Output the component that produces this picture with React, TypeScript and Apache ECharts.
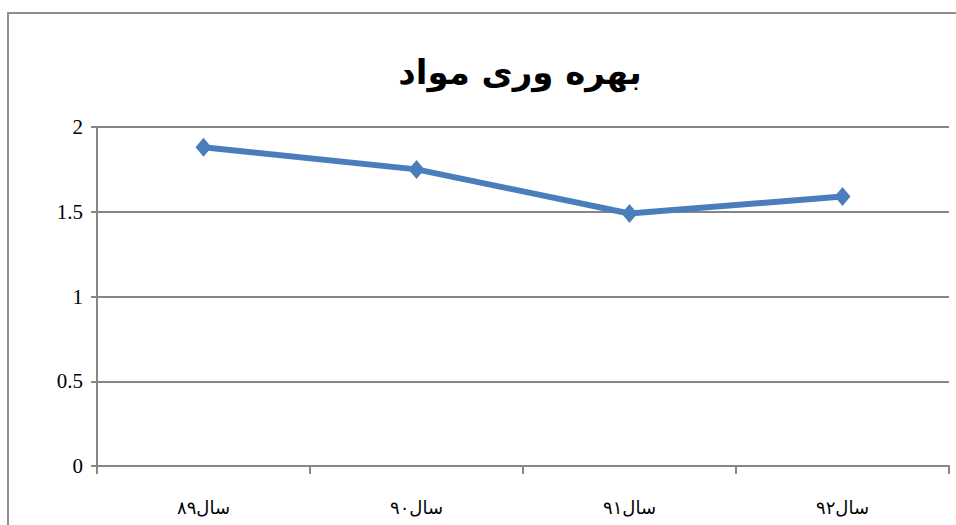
import React, { useEffect, useRef } from "react";
import * as echarts from "echarts";

const title = "بهره وری مواد";
const categories = ["سال۸۹", "سال۹۰", "سال۹۱", "سال۹۲"];
const values = [1.88, 1.75, 1.49, 1.59];
const yTicks = [0, 0.5, 1, 1.5, 2];

export default function App() {
  const ref = useRef<HTMLDivElement>(null);
  useEffect(() => {
    if (!ref.current) return;
    const chart = echarts.init(ref.current, null, { renderer: "svg" });
    chart.setOption({
      animation: false,
      backgroundColor: "#ffffff",
      title: {
        text: title,
        left: 515,
        textAlign: "center",
        top: 50,
        textStyle: {
          fontFamily: "DejaVu Sans",
          fontWeight: "bold",
          fontSize: 34,
          color: "#000",
        },
      },
      graphic: [
        {
          type: "polyline",
          shape: { points: [[8, 530], [8, 13], [960, 13]] },
          style: { stroke: "#8e8e8e", lineWidth: 2, fill: "none" },
          silent: true,
        },
      ],
      grid: { left: 97, right: 7, top: 127, bottom: 59, containLabel: false },
      xAxis: {
        type: "category",
        data: categories,
        boundaryGap: true,
        axisLine: { lineStyle: { color: "#868686", width: 2 } },
        axisTick: { show: true, length: 8, interval: 0, lineStyle: { color: "#868686", width: 2 } },
        axisLabel: {
          fontFamily: "DejaVu Sans",
          fontSize: 18,
          color: "#000",
          margin: 32,
        },
      },
      yAxis: {
        type: "value",
        min: yTicks[0],
        max: yTicks[yTicks.length - 1],
        interval: 0.5,
        axisLine: { show: true, lineStyle: { color: "#868686", width: 2 } },
        axisTick: { show: true, length: 6, lineStyle: { color: "#868686", width: 2 } },
        splitLine: { show: true, lineStyle: { color: "#868686", width: 2 } },
        axisLabel: {
          fontFamily: "Liberation Serif",
          fontSize: 21,
          color: "#000",
          margin: 14,
        },
      },
      series: [
        {
          type: "line",
          data: values,
          symbol: "diamond",
          symbolSize: [16, 19],
          lineStyle: { color: "#4a7ebb", width: 6 },
          itemStyle: { color: "#4a7ebb" },
        },
      ],
    });
    return () => chart.dispose();
  }, []);
  return (
    <div
      ref={ref}
      style={{ position: "fixed", left: 0, top: 0, width: 956, height: 525 }}
    />
  );
}
